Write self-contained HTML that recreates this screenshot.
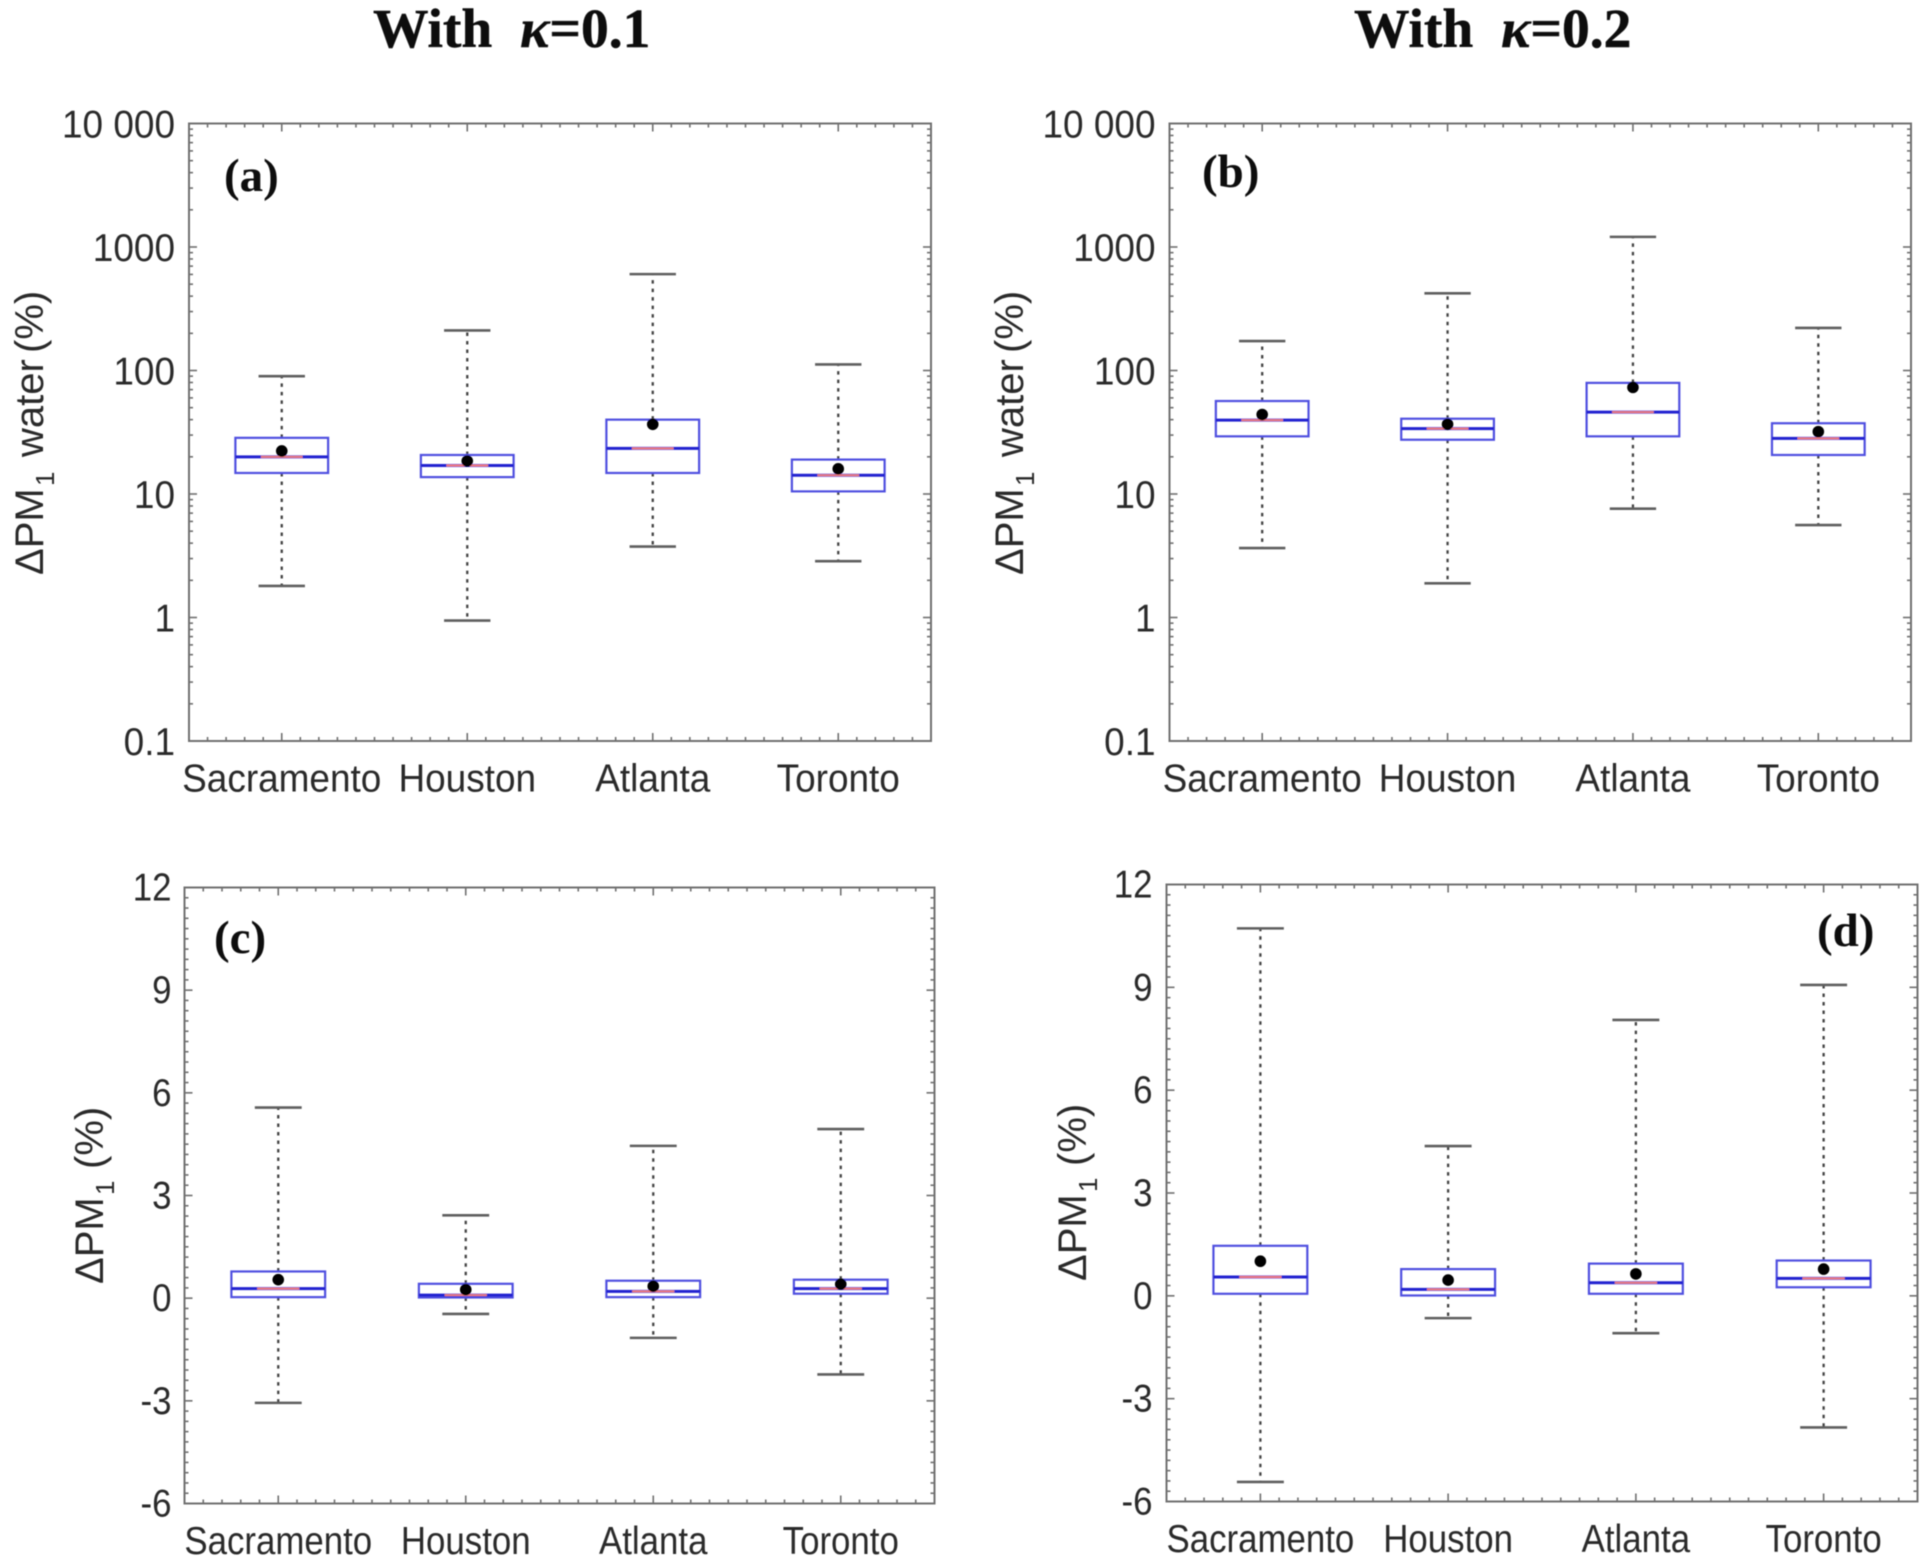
<!DOCTYPE html>
<html lang="en">
<head>
<meta charset="utf-8">
<title>Box plots of PM1 water and PM1 change</title>
<style>
html,body{margin:0;padding:0;background:#fff;}
svg{display:block;}
text{font-family:"Liberation Sans",Arial,sans-serif;fill:#2b2b2b;}
.serif{font-family:"Liberation Serif","Times New Roman",serif;font-weight:bold;fill:#0c0c0c;}
</style>
</head>
<body>
<svg id="fig" xmlns="http://www.w3.org/2000/svg" width="1928" height="1568" viewBox="0 0 1928 1568">
<defs>
<filter id="soft" x="-2%" y="-2%" width="104%" height="104%"><feGaussianBlur stdDeviation="0.6"/></filter>
</defs>
<rect width="1928" height="1568" fill="#fff"/>
<g id="root" filter="url(#soft)">
<text class="serif" x="373" y="47" font-size="55.5" stroke="#0c0c0c" stroke-width="0.5" xml:space="preserve">With  <tspan font-style="italic">κ</tspan>=0.1</text>
<text class="serif" x="1354" y="47" font-size="55.5" stroke="#0c0c0c" stroke-width="0.5" xml:space="preserve">With  <tspan font-style="italic">κ</tspan>=0.2</text>
</g>
</svg>
<script>
const categories = ['Sacramento', 'Houston', 'Atlanta', 'Toronto'];
const logTicks = [0.1, 1, 10, 100, 1000, 10000];
const logTickLabels = ['0.1', '1', '10', '100', '1000', '10 000'];
const linTicks = [-6, -3, 0, 3, 6, 9, 12];
const linTickLabels = ['-6', '-3', '0', '3', '6', '9', '12'];

const aHigh = [90, 211, 603, 112];
const aLow = [1.8, 0.945, 3.75, 2.86];
const aQ3 = [28.5, 20.7, 40, 19];
const aQ1 = [14.8, 13.7, 14.8, 10.5];
const aMedian = [20, 17, 23.4, 14.2];
const aMean = [22.3, 18.5, 36.7, 16];

const bHigh = [173, 422, 1208, 221];
const bLow = [3.65, 1.89, 7.6, 5.6];
const bQ3 = [56.6, 40.7, 79.4, 37.4];
const bQ1 = [29.3, 27.5, 29.3, 20.7];
const bMedian = [39.6, 33.8, 46, 28.2];
const bMean = [44, 36.7, 73, 32];

const cHigh = [5.57, 2.42, 4.45, 4.94];
const cLow = [-3.06, -0.46, -1.16, -2.23];
const cQ3 = [0.78, 0.42, 0.51, 0.54];
const cQ1 = [0.03, 0.02, 0.03, 0.13];
const cMedian = [0.28, 0.09, 0.2, 0.28];
const cMean = [0.54, 0.25, 0.35, 0.41];

const dHigh = [10.72, 4.37, 8.05, 9.07];
const dLow = [-5.43, -0.65, -1.09, -3.84];
const dQ3 = [1.46, 0.78, 0.94, 1.03];
const dQ1 = [0.06, 0.01, 0.06, 0.25];
const dMedian = [0.55, 0.19, 0.38, 0.51];
const dMean = [1.01, 0.46, 0.64, 0.78];

const NS = 'http://www.w3.org/2000/svg';
const root = document.getElementById('root');
const AXIS = '#707070';
const BOX = '#5050e0';
const BLUE = '#2020d0';
const RED = '#ee7c7c';
const WHISK = '#444';
const CAP = '#5e5e5e';

function mk(parent, tag, name, attrs, txt) {
  const el = document.createElementNS(NS, tag);
  
  
  for (const k in attrs) el.setAttribute(k, attrs[k]);
  if (txt !== undefined) el.textContent = txt;
  parent.appendChild(el);
  return el;
}

function line(parent, name, x1, y1, x2, y2, color, w, dash) {
  const a = { x1: x1, y1: y1, x2: x2, y2: y2, stroke: color, 'stroke-width': w };
  if (dash) a['stroke-dasharray'] = dash;
  return mk(parent, 'line', name, a);
}

function drawPanel(p) {
  const g = mk(root, 'g', 'panel-' + p.id, {});
  const W = p.R - p.L;
  const H = p.B - p.T;
  const lo = p.log ? Math.log10(p.ticks[0]) : p.ticks[0];
  const hi = p.log ? Math.log10(p.ticks[p.ticks.length - 1]) : p.ticks[p.ticks.length - 1];
  const yScale = v => p.B - ((p.log ? Math.log10(v) : v) - lo) / (hi - lo) * H;
  const xScale = i => p.L + (i + 0.5) / categories.length * W;
  const unit = W / categories.length;

  // minor and major ticks
  const xAxis = mk(g, 'g', 'x-axis', {});
  for (let k = 1; k < categories.length * 10; k++) {
    const x = p.L + k * unit / 10;
    const major = k % 10 === 5;
    const len = major ? 8 : 4;
    line(xAxis, major ? 'x-major-tick' : 'x-minor-tick', x, p.B, x, p.B - len, AXIS, 1.6);
    line(xAxis, major ? 'x-major-tick-top' : 'x-minor-tick-top', x, p.T, x, p.T + len, AXIS, 1.6);
  }
  const yAxis = mk(g, 'g', 'y-axis', {});
  function yTick(v, major) {
    const y = yScale(v);
    const len = major ? 8 : 4;
    line(yAxis, major ? 'y-major-tick' : 'y-minor-tick', p.L, y, p.L + len, y, AXIS, 1.6);
    line(yAxis, major ? 'y-major-tick-right' : 'y-minor-tick-right', p.R, y, p.R - len, y, AXIS, 1.6);
  }
  p.ticks.forEach(t => yTick(t, true));
  if (p.log) {
    for (let i = 0; i < p.ticks.length - 1; i++) {
      for (let m = 2; m < 10; m++) yTick(p.ticks[i] * m, false);
    }
  } else {
    for (let i = 0; i < p.ticks.length - 1; i++) {
      const step = (p.ticks[i + 1] - p.ticks[i]) / 10;
      for (let m = 1; m < 10; m++) yTick(p.ticks[i] + m * step, false);
    }
  }

  mk(g, 'rect', 'plot-frame', { x: p.L, y: p.T, width: W, height: H, fill: 'none', stroke: AXIS, 'stroke-width': 2 });

  // tick labels
  p.ticks.forEach((t, i) => {
    mk(yAxis, 'text', 'y-tick-label', {
      transform: 'translate(' + (p.L - p.labelGap) + ',' + (yScale(t) + p.tickDy) + ') scale(' + p.sx + ',1)',
      'text-anchor': 'end',
      'font-size': 38.5
    }, p.labels[i]);
  });
  categories.forEach((c, i) => {
    mk(xAxis, 'text', 'x-tick-label-' + c.toLowerCase(), {
      transform: 'translate(' + xScale(i) + ',' + p.xLabelY + ') scale(' + p.sx + ',1)',
      'text-anchor': 'middle',
      'font-size': 38.5
    }, c);
  });

  // y axis title
  const t = mk(g, 'text', 'y-axis-title', {
    transform: 'translate(' + p.titleX + ',' + p.titleY + ') rotate(-90)',
    'font-size': 40
  });
  const parts = p.titleParts;
  parts.forEach(part => {
    mk(t, 'tspan', 'y-title-part', { x: part[1], y: part[2], 'font-size': part[3] }, part[0]);
  });

  // boxes
  categories.forEach((c, i) => {
    const b = mk(g, 'g', 'box-' + c.toLowerCase(), {});
    const x = xScale(i);
    const bw = unit * 0.25;
    const cw = unit * 0.125;
    const yHi = yScale(p.high[i]);
    const yLo = yScale(p.low[i]);
    const yQ3 = yScale(p.q3[i]);
    const yQ1 = yScale(p.q1[i]);
    const yMed = yScale(p.median[i]);
    line(b, 'upper-whisker', x, yQ3, x, yHi, WHISK, 2.3, '3.5 5');
    line(b, 'lower-whisker', x, yQ1, x, yLo, WHISK, 2.3, '3.5 5');
    line(b, 'upper-cap', x - cw, yHi, x + cw, yHi, CAP, 2.6);
    line(b, 'lower-cap', x - cw, yLo, x + cw, yLo, CAP, 2.6);
    mk(b, 'rect', 'interquartile-box', { x: x - bw, y: yQ3, width: 2 * bw, height: yQ1 - yQ3, fill: 'none', stroke: BOX, 'stroke-width': 2.2 });
    line(b, 'median-line', x - bw, yMed, x + bw, yMed, BLUE, 3);
    line(b, 'median-center', x - bw * 0.45, yMed, x + bw * 0.45, yMed, RED, 2);
    mk(b, 'circle', 'mean-dot', { cx: x, cy: yScale(p.mean[i]), r: 5.8, fill: '#000' });
  });

  mk(g, 'text', 'panel-label-' + p.id, { class: 'serif', x: p.letterX, y: p.letterY, 'font-size': 47 }, '(' + p.id + ')');
}

drawPanel({
  id: 'a', L: 189, R: 931, T: 123.5, B: 741, log: true,
  ticks: logTicks, labels: logTickLabels, labelGap: 14, tickDy: 14, sx: 0.96, xLabelY: 791.5,
  titleX: 43, titleY: 575,
  titleParts: [['ΔPM', 0, 0, 40], ['1', 89, 11, 26], ['water', 118, 0, 40], ['(%)', 222, 0, 40]],
  letterX: 224, letterY: 191,
  high: aHigh, low: aLow, q3: aQ3, q1: aQ1, median: aMedian, mean: aMean
});
drawPanel({
  id: 'b', L: 1169.5, R: 1911, T: 123.5, B: 741, log: true,
  ticks: logTicks, labels: logTickLabels, labelGap: 14, tickDy: 14, sx: 0.96, xLabelY: 791.5,
  titleX: 1023, titleY: 575,
  titleParts: [['ΔPM', 0, 0, 40], ['1', 89, 11, 26], ['water', 118, 0, 40], ['(%)', 222, 0, 40]],
  letterX: 1202, letterY: 187,
  high: bHigh, low: bLow, q3: bQ3, q1: bQ1, median: bMedian, mean: bMean
});
drawPanel({
  id: 'c', L: 184.5, R: 934.5, T: 887.5, B: 1503.5, log: false,
  ticks: linTicks, labels: linTickLabels, labelGap: 13, tickDy: 13, sx: 0.905, xLabelY: 1554,
  titleX: 103, titleY: 1284,
  titleParts: [['ΔPM', 0, 0, 40], ['1', 89, 11, 26], ['(%)', 115, 0, 40]],
  letterX: 214, letterY: 953,
  high: cHigh, low: cLow, q3: cQ3, q1: cQ1, median: cMedian, mean: cMean
});
drawPanel({
  id: 'd', L: 1166.5, R: 1917.5, T: 884.5, B: 1501.5, log: false,
  ticks: linTicks, labels: linTickLabels, labelGap: 14, tickDy: 13, sx: 0.905, xLabelY: 1552,
  titleX: 1086, titleY: 1281,
  titleParts: [['ΔPM', 0, 0, 40], ['1', 89, 11, 26], ['(%)', 115, 0, 40]],
  letterX: 1817, letterY: 946,
  high: dHigh, low: dLow, q3: dQ3, q1: dQ1, median: dMedian, mean: dMean
});
</script>
</body>
</html>
